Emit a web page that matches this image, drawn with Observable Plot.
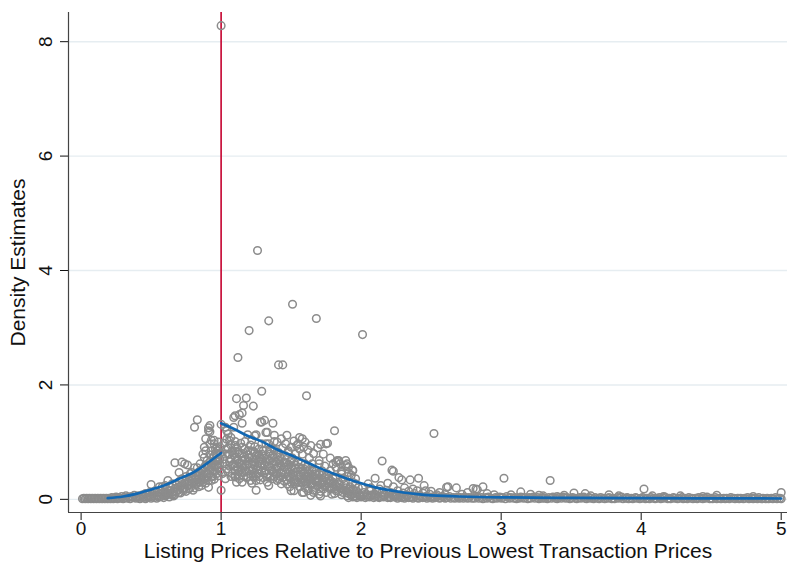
<!DOCTYPE html>
<html><head><meta charset="utf-8">
<script src="https://cdn.jsdelivr.net/npm/d3@7"></script>
<script src="https://cdn.jsdelivr.net/npm/@observablehq/plot@0.6"></script>
<style>body{margin:0;background:#fff}</style>
</head><body><div id="chart"></div>
<script>
const xTicks = [0, 1, 2, 3, 4, 5];
const yTicks = [0, 2, 4, 6, 8];
const cutoff = [1];
const xTitle = "Listing Prices Relative to Previous Lowest Transaction Prices";
const yTitle = "Density Estimates";

// fitted density, below and above the cutoff
const fitLeftX = [0.19, 0.3, 0.4, 0.5, 0.6, 0.7, 0.8, 0.9, 1.0];
const fitLeftY = [0.02, 0.05, 0.1, 0.17, 0.25, 0.36, 0.47, 0.63, 0.81];
const fitRightX = [1.0, 1.1, 1.2, 1.3, 1.4, 1.5, 1.6, 1.7, 1.8, 1.9, 2.0, 2.1, 2.2, 2.3, 2.4, 2.5, 2.7, 3.0, 3.5, 4.0, 4.5, 5.0];
const fitRightY = [1.33, 1.22, 1.1, 1.0, 0.87, 0.77, 0.66, 0.55, 0.45, 0.36, 0.28, 0.21, 0.16, 0.12, 0.09, 0.07, 0.05, 0.035, 0.025, 0.02, 0.018, 0.015];

// scatter of density estimates
const bandLeft = [[0.01,0.01],[0.02,0.02],[0.03,0.01],[0.04,0.02],[0.05,0.01],[0.06,0.02],[0.07,0.01],[0.08,0.02],[0.09,0.01],[0.10,0.02],[0.11,0.01],[0.12,0.02],[0.13,0.01],[0.14,0.02],[0.15,0.01],[0.16,0.02],[0.17,0.01],[0.18,0.02],[0.19,0.01],[0.20,0.02],[0.21,0.01],[0.22,0.03],[0.23,0.01],[0.24,0.02],[0.25,0.04],[0.26,0.01],[0.27,0.03],[0.28,0.02],[0.29,0.05],[0.30,0.01],[0.31,0.03],[0.32,0.06],[0.33,0.02],[0.34,0.04],[0.35,0.01],[0.36,0.05],[0.37,0.03],[0.38,0.07],[0.39,0.02],[0.40,0.05],[0.42,0.01],[0.44,0.03],[0.46,0.01],[0.48,0.04],[0.50,0.02],[0.52,0.06],[0.54,0.02],[0.57,0.05],[0.59,0.03],[0.61,0.08],[0.63,0.04],[0.66,0.06]];

const leftCloud = [[0.40,0.03],[0.41,0.06],[0.42,0.02],[0.43,0.05],[0.44,0.08],[0.45,0.04],[0.46,0.10],[0.47,0.03],[0.48,0.07],[0.49,0.12],[0.50,0.05],[0.50,0.26],[0.51,0.09],[0.52,0.03],[0.53,0.14],[0.54,0.07],[0.55,0.11],[0.56,0.04],[0.56,0.22],[0.57,0.16],[0.58,0.09],[0.58,0.22],[0.59,0.13],[0.60,0.06],[0.60,0.24],[0.61,0.18],[0.62,0.10],[0.62,0.33],[0.63,0.15],[0.64,0.21],[0.65,0.08],[0.65,0.27],[0.66,0.13],[0.67,0.19],[0.67,0.64],[0.67,0.08],[0.68,0.25],[0.69,0.16],[0.70,0.31],[0.70,0.47],[0.71,0.11],[0.71,0.22],[0.72,0.36],[0.72,0.65],[0.73,0.18],[0.74,0.28],[0.74,0.62],[0.75,0.14],[0.75,0.40],[0.76,0.24],[0.76,0.60],[0.77,0.33],[0.78,0.20],[0.78,0.45],[0.79,0.29],[0.79,0.47],[0.80,0.38],[0.80,0.16],[0.81,0.55],[0.81,1.26],[0.82,0.26],[0.82,0.42],[0.83,0.34],[0.83,1.39],[0.83,0.55],[0.84,0.22],[0.84,0.48],[0.85,0.62],[0.85,0.30],[0.86,0.40],[0.86,0.24],[0.87,0.79],[0.87,0.53],[0.88,0.73],[0.88,0.36],[0.88,0.91],[0.89,0.60],[0.89,0.28],[0.89,0.85],[0.90,0.45],[0.90,0.68],[0.91,1.25],[0.91,0.33],[0.91,1.20],[0.91,0.56],[0.92,0.97],[0.92,1.29],[0.92,0.78],[0.92,1.18],[0.93,0.62],[0.93,1.03],[0.93,0.40],[0.93,0.85],[0.94,0.50],[0.94,0.72],[0.95,0.97],[0.95,1.03],[0.95,0.35],[0.95,0.60],[0.96,0.68],[0.96,0.88],[0.97,0.45],[0.97,0.78],[0.98,0.85],[0.98,0.55],[0.98,0.41],[0.98,1.00],[0.99,0.70],[0.99,0.62],[0.99,0.92],[0.89,1.06],[0.88,0.44],[0.93,0.33],[0.91,0.21],[0.97,0.68],[1.00,1.31],[1.00,0.16],[1.00,8.28],
[0.55,0.05],[0.57,0.10],[0.59,0.07],[0.61,0.12],[0.63,0.09],[0.64,0.15],[0.66,0.10],[0.68,0.14],[0.69,0.21],[0.70,0.12],[0.72,0.26],[0.73,0.15],[0.74,0.20],[0.76,0.30],[0.77,0.18],[0.78,0.26],[0.79,0.36],[0.81,0.30],[0.81,0.20],[0.82,0.36],[0.83,0.28],[0.84,0.40],[0.85,0.46],[0.86,0.34],[0.86,0.52],[0.87,0.42],[0.87,0.30],[0.88,0.56],[0.89,0.48],[0.90,0.38],[0.90,0.58],[0.91,0.44],[0.92,0.52],[0.92,0.66],[0.93,0.56],[0.94,0.62],[0.94,0.40],[0.95,0.76],[0.95,0.48],[0.96,0.56],[0.96,0.80],[0.97,0.60],[0.97,0.90],[0.98,0.70],[0.99,0.50],[0.99,0.80]];

const mainCloud = [[1.26,4.35],[1.51,3.41],[1.34,3.12],[1.68,3.16],[1.20,2.95],[1.12,2.48],[1.41,2.35],[1.44,2.35],[1.29,1.89],[1.61,1.81],[1.11,1.76],[1.18,1.77],[1.16,1.64],[1.23,1.63],[1.15,1.51],[1.10,1.46],[1.13,1.48],[2.01,2.88],[1.81,1.20],[2.52,1.15],
[1.09,1.43],[1.15,1.33],[1.09,1.26],[1.29,1.35],[1.31,1.38],[1.37,1.33],[1.33,1.17],[1.25,1.13],[1.19,1.13],[1.22,1.04],[1.17,1.01],[1.10,1.01],[1.07,1.08],[1.05,1.14],[1.04,1.20],[1.03,1.26],[1.06,1.03],[1.10,0.94],[1.15,0.91],[1.19,0.85],[1.24,0.92],[1.29,0.97],[1.34,0.97],[1.38,1.01],[1.46,0.97],[1.50,0.91],[1.48,0.82],[1.55,0.97],[1.58,1.06],[1.56,0.88],[1.53,0.79],[1.41,0.82],[1.35,0.79],[1.29,0.79],[1.27,0.68],[1.22,0.62],[1.15,0.68],[1.10,0.74],[1.05,0.79],[1.12,0.56],[1.17,0.50],[1.23,0.39],[1.10,0.39],[1.11,0.30],[1.25,0.16],[1.34,0.24],[1.43,0.27],[1.50,0.15],[1.53,0.27],[1.58,0.36],[1.62,0.39],[1.67,0.44],[1.72,0.50],[1.65,0.62],[1.70,0.68],[1.73,0.79],[1.76,0.98],[1.83,0.68],[1.89,0.68],[1.85,0.62],[1.91,0.56],[1.94,0.50],[1.86,0.44],[1.82,0.39],[1.77,0.33],[1.72,0.27],[1.67,0.21],[1.62,0.15],[1.58,0.12],[1.70,0.09],[1.82,0.15],[1.91,0.18],[1.96,0.27],[2.01,0.21],[2.06,0.15],[2.10,0.09],[2.15,0.12],[2.20,0.09],[2.25,0.06],
[1.28,1.35],[1.32,1.17],[1.24,1.11],[1.75,0.97],[1.70,0.62],[1.54,0.94],[1.59,0.91],[1.58,0.79],[1.40,1.00],[1.32,0.97],[1.48,0.85],[1.11,0.91],[1.06,0.79],[1.13,0.79],[1.21,0.85],[1.25,0.76],[1.19,0.68],[1.15,0.59],[1.10,0.50],[1.16,0.47],[1.23,0.53],[1.29,0.62],[1.35,0.68],[1.42,0.74],[1.52,0.65],[1.61,0.56],[1.68,0.50],[1.76,0.44],[1.78,0.33],[1.68,0.30],[1.61,0.27],[1.54,0.30],[1.47,0.27],[1.40,0.33],[1.33,0.39],[1.25,0.41],[1.21,0.33],[1.15,0.30],[1.10,0.41],[1.52,0.15],[1.59,0.12],[1.66,0.12],[1.73,0.18],[1.80,0.27],[1.79,0.09],[1.71,0.06],[1.64,0.07],[1.03,0.79],[1.04,0.53],[1.11,0.68],
[1.02,0.98],[1.03,0.62],[1.04,1.05],[1.05,0.90],[1.06,0.58],[1.07,0.70],[1.08,0.85],[1.08,0.45],[1.09,0.62],[1.12,0.82],[1.13,0.64],[1.14,0.98],[1.14,0.52],[1.16,0.74],[1.17,0.88],[1.18,0.60],[1.18,0.38],[1.20,0.72],[1.20,0.50],[1.21,0.95],[1.22,0.28],[1.23,0.66],[1.24,0.82],[1.26,0.58],[1.26,0.45],[1.27,0.88],[1.28,0.34],[1.28,0.72],[1.30,0.55],[1.30,0.85],[1.31,0.46],[1.32,0.66],[1.33,0.30],[1.34,0.58],[1.35,0.88],[1.36,0.50],[1.36,0.72],[1.37,0.36],[1.38,0.62],[1.38,0.86],[1.39,0.44],[1.40,0.56],[1.41,0.68],[1.42,0.40],[1.43,0.58],[1.44,0.90],[1.44,0.48],[1.45,0.64],[1.45,0.32],[1.46,0.76],[1.47,0.52],[1.48,0.40],[1.49,0.66],[1.49,0.22],[1.50,0.56],[1.51,0.45],[1.51,0.72],[1.52,0.36],[1.53,0.54],[1.55,0.42],[1.55,0.66],[1.56,0.22],[1.57,0.52],[1.57,0.30],[1.59,0.44],[1.60,0.62],[1.60,0.20],[1.62,0.48],[1.63,0.34],[1.63,0.72],[1.64,0.26],[1.65,0.42],[1.66,0.52],[1.66,0.16],[1.68,0.36],[1.69,0.24],[1.70,0.44],[1.71,0.14],[1.72,0.34],[1.74,0.22],[1.74,0.58],[1.75,0.12],[1.76,0.28],[1.78,0.18],[1.78,0.50],[1.80,0.36],[1.81,0.10],[1.82,0.24],[1.84,0.30],[1.84,0.14],[1.85,0.20],[1.86,0.08],[1.87,0.36],[1.88,0.16],[1.88,0.26],[1.90,0.12],[1.90,0.40],[1.92,0.22],[1.93,0.08],[1.94,0.30],[1.95,0.15],[1.97,0.10],[1.98,0.20],[1.99,0.06],
[1.38,1.12],[1.43,1.06],[1.47,1.12],[1.52,1.02],[1.56,1.08],[1.60,1.00],[1.62,0.86],[1.64,0.94],[1.66,0.80],[1.69,0.90],[1.71,0.96],[1.78,0.72],[1.80,0.62],[1.82,0.56],[1.84,0.66],[1.86,0.50],[1.90,0.62],[1.93,0.42]];

const denseCore = [[1.01,0.45],[1.02,0.70],[1.03,0.36],[1.04,0.88],[1.05,0.48],[1.06,0.66],[1.07,0.40],[1.07,0.95],[1.08,0.60],[1.09,0.78],[1.10,0.58],[1.11,0.84],[1.12,0.44],[1.12,0.70],[1.13,0.36],[1.14,0.62],[1.15,0.80],[1.16,0.40],[1.16,0.56],[1.17,0.70],[1.18,0.48],[1.19,0.78],[1.19,0.40],[1.20,0.62],[1.21,0.44],[1.22,0.74],[1.22,0.52],[1.23,0.84],[1.24,0.46],[1.24,0.60],[1.25,0.70],[1.25,0.33],[1.26,0.52],[1.27,0.78],[1.27,0.40],[1.28,0.62],[1.29,0.48],[1.29,0.70],[1.30,0.38],[1.31,0.60],[1.31,0.76],[1.32,0.50],[1.33,0.70],[1.33,0.44],[1.34,0.82],[1.35,0.40],[1.35,0.56],[1.36,0.64],[1.37,0.48],[1.37,0.78],[1.38,0.40],[1.39,0.66],[1.39,0.54],[1.40,0.46],[1.40,0.78],[1.41,0.36],[1.41,0.58],[1.42,0.64],[1.43,0.46],[1.43,0.72],[1.44,0.38],[1.45,0.56],[1.46,0.44],[1.46,0.64],[1.47,0.34],[1.48,0.60],[1.48,0.48],[1.49,0.38],[1.50,0.68],[1.50,0.30],[1.51,0.52],[1.52,0.42],[1.53,0.60],[1.53,0.34],[1.54,0.48],[1.55,0.30],[1.56,0.56],[1.56,0.40],[1.57,0.62],[1.58,0.28],[1.58,0.48],[1.59,0.36],[1.60,0.52],[1.61,0.40],[1.61,0.30],[1.62,0.58],[1.63,0.44],[1.64,0.36],[1.65,0.50],[1.65,0.28],[1.66,0.40],[1.67,0.32],[1.68,0.44],[1.69,0.30],[1.70,0.36],[1.71,0.26],[1.72,0.42],[1.73,0.30],[1.74,0.38],[1.75,0.24],[1.76,0.36],[1.77,0.22],[1.78,0.28],[1.79,0.20],[1.80,0.30],[1.81,0.18],[1.83,0.22],[1.85,0.26],[1.86,0.18],[1.87,0.12],[1.89,0.20],[1.91,0.10],[1.92,0.14],[1.94,0.18],[1.96,0.06],[1.97,0.14]];

const tailCloud = [[2.15,0.67],[2.22,0.51],[2.23,0.49],[2.41,0.37],[2.35,0.34],[2.29,0.34],[2.27,0.38],[2.19,0.28],[2.10,0.37],[2.05,0.27],[1.94,0.51],[1.89,0.59],[1.84,0.68],[1.82,0.65],[1.91,0.47],[1.86,0.47],[1.96,0.36],[2.62,0.22],[2.68,0.20],[2.46,0.15],[2.37,0.18],[2.13,0.18],[2.61,0.21],[2.80,0.19],[2.82,0.18],[2.87,0.22],
[2.02,0.12],[2.04,0.05],[2.07,0.20],[2.08,0.08],[2.11,0.14],[2.12,0.04],[2.14,0.24],[2.16,0.07],[2.18,0.16],[2.20,0.04],[2.21,0.12],[2.23,0.22],[2.24,0.08],[2.26,0.15],[2.28,0.05],[2.30,0.11],[2.31,0.20],[2.33,0.07],[2.34,0.14],[2.36,0.04],[2.38,0.10],[2.40,0.15],[2.42,0.06],[2.44,0.11],[2.45,0.24],[2.47,0.05],[2.49,0.09],[2.50,0.14],[2.52,0.04],[2.54,0.08],[2.56,0.12],[2.58,0.05],[2.60,0.09],
[2.83,0.17],[3.02,0.37],[3.14,0.13],[3.35,0.33],[3.52,0.11],[3.60,0.10],[3.77,0.08],[4.02,0.18],[5.00,0.12],[2.72,0.09],[2.76,0.12],[2.90,0.10],[2.95,0.08],[3.07,0.08],[3.21,0.09],[3.27,0.07],[3.45,0.07],[3.64,0.06],[3.84,0.06],[4.08,0.06],[4.16,0.05],[4.28,0.06],[4.44,0.05],[4.54,0.07],[4.80,0.05],[3.30,0.06],[3.40,0.05]];

const bandRight = [[1.90,0.06],[1.91,0.03],[1.93,0.07],[1.94,0.04],[1.96,0.05],[1.97,0.03],[1.99,0.07],
[2.00,0.04],[2.01,0.06],[2.03,0.03],[2.04,0.08],[2.06,0.04],[2.07,0.06],[2.09,0.03],
[2.10,0.05],[2.11,0.07],[2.13,0.03],[2.14,0.05],[2.16,0.04],[2.17,0.07],[2.19,0.03],
[2.20,0.05],[2.21,0.03],[2.23,0.06],[2.24,0.04],[2.26,0.02],[2.27,0.05],[2.29,0.03],
[2.30,0.04],[2.31,0.02],[2.33,0.05],[2.34,0.03],[2.36,0.04],[2.37,0.02],[2.39,0.05],
[2.40,0.03],[2.41,0.02],[2.43,0.04],[2.44,0.03],[2.46,0.05],[2.47,0.02],[2.49,0.03],
[2.50,0.04],[2.51,0.02],[2.53,0.03],[2.54,0.05],[2.56,0.02],[2.57,0.03],[2.59,0.04],
[2.60,0.02],[2.61,0.03],[2.63,0.05],[2.64,0.02],[2.66,0.03],[2.67,0.02],[2.69,0.04],
[2.70,0.02],[2.71,0.03],[2.73,0.02],[2.74,0.04],[2.76,0.02],[2.77,0.03],[2.79,0.02],
[2.80,0.03],[2.81,0.02],[2.83,0.04],[2.84,0.02],[2.86,0.03],[2.87,0.01],[2.89,0.03],
[2.90,0.02],[2.91,0.04],[2.93,0.02],[2.94,0.01],[2.96,0.03],[2.97,0.02],[2.99,0.04],
[3.00,0.02],[3.01,0.03],[3.03,0.01],[3.04,0.05],[3.06,0.02],[3.07,0.03],[3.09,0.02],
[3.10,0.03],[3.11,0.01],[3.13,0.02],[3.14,0.04],[3.16,0.02],[3.17,0.03],[3.19,0.01],
[3.20,0.03],[3.21,0.02],[3.23,0.04],[3.24,0.02],[3.26,0.03],[3.27,0.01],[3.29,0.02],
[3.30,0.03],[3.31,0.02],[3.33,0.01],[3.34,0.03],[3.36,0.02],[3.37,0.04],[3.39,0.02],
[3.40,0.01],[3.41,0.03],[3.43,0.02],[3.44,0.04],[3.46,0.02],[3.47,0.03],[3.49,0.01],
[3.50,0.02],[3.51,0.03],[3.53,0.02],[3.54,0.01],[3.56,0.03],[3.57,0.02],[3.59,0.04],
[3.60,0.02],[3.61,0.01],[3.63,0.03],[3.64,0.02],[3.66,0.01],[3.67,0.03],[3.69,0.02],
[3.70,0.01],[3.71,0.03],[3.73,0.02],[3.74,0.01],[3.76,0.02],[3.77,0.03],[3.79,0.01],
[3.80,0.02],[3.81,0.01],[3.83,0.03],[3.84,0.02],[3.86,0.04],[3.87,0.01],[3.89,0.02],
[3.90,0.03],[3.91,0.01],[3.93,0.02],[3.94,0.01],[3.96,0.03],[3.97,0.02],[3.99,0.01],
[4.00,0.02],[4.01,0.03],[4.03,0.01],[4.04,0.02],[4.06,0.01],[4.07,0.03],[4.09,0.02],
[4.10,0.01],[4.11,0.02],[4.13,0.03],[4.14,0.01],[4.16,0.02],[4.17,0.04],[4.19,0.01],
[4.20,0.02],[4.21,0.01],[4.23,0.03],[4.24,0.02],[4.26,0.01],[4.27,0.02],[4.29,0.03],
[4.30,0.01],[4.31,0.02],[4.33,0.01],[4.34,0.03],[4.36,0.02],[4.37,0.01],[4.39,0.02],
[4.40,0.01],[4.41,0.03],[4.43,0.02],[4.44,0.01],[4.46,0.02],[4.47,0.04],[4.49,0.01],
[4.50,0.02],[4.51,0.01],[4.53,0.03],[4.54,0.01],[4.56,0.02],[4.57,0.01],[4.59,0.02],
[4.60,0.01],[4.61,0.02],[4.63,0.01],[4.64,0.03],[4.66,0.02],[4.67,0.01],[4.69,0.02],
[4.70,0.01],[4.71,0.02],[4.73,0.01],[4.74,0.02],[4.76,0.03],[4.77,0.01],[4.79,0.02],
[4.80,0.01],[4.81,0.02],[4.83,0.01],[4.84,0.03],[4.86,0.01],[4.87,0.02],[4.89,0.01],
[4.90,0.02],[4.91,0.01],[4.93,0.02],[4.94,0.01],[4.96,0.03],[4.97,0.01],[4.99,0.02],
[5.00,0.01]];

const points = [...bandLeft, ...leftCloud, ...mainCloud, ...denseCore, ...tailCloud, ...bandRight].map(([x, y]) => ({x, y}));
const fitLeft = fitLeftX.map((x, i) => ({x, y: fitLeftY[i]}));
const fitRight = fitRightX.map((x, i) => ({x, y: fitRightY[i]}));

const xMin = -0.09, xMax = 5.045, yMin = -0.23, yMax = 8.51;

const chart = Plot.plot({
  width: 787, height: 569,
  marginLeft: 68, marginRight: 0, marginTop: 12, marginBottom: 57,
  style: {fontFamily: "'Liberation Sans', Arial, Helvetica, sans-serif", fontSize: "19px", color: "#111", background: "#fff"},
  x: {domain: [xMin, xMax], ticks: xTicks, tickSize: 8, tickPadding: 1, label: null, tickFormat: d3.format("d")},
  y: {domain: [yMin, yMax], ticks: yTicks, tickSize: 8, tickPadding: 9, tickRotate: -90, label: null, tickFormat: d3.format("d")},
  marks: [
    Plot.ruleY(yTicks, {stroke: "#e6edf1", strokeWidth: 1.4}),
    Plot.ruleX(cutoff, {stroke: "#c8103a", strokeWidth: 1.7}),
    Plot.dot(points, {x: "x", y: "y", r: 3.8, stroke: "#8c8c8c", strokeWidth: 1.5, fill: "none"}),
    Plot.line(fitLeft, {x: "x", y: "y", curve: "natural", stroke: "#1268b3", strokeWidth: 2.7}),
    Plot.line(fitRight, {x: "x", y: "y", curve: "natural", stroke: "#1268b3", strokeWidth: 2.7}),
    Plot.ruleX([xMin], {stroke: "#444", strokeWidth: 1.2}),
    Plot.ruleY([yMin], {stroke: "#444", strokeWidth: 1.2}),
    Plot.text([xTitle], {frameAnchor: "bottom", dy: 45, fontSize: 21, fill: "#111"}),
    Plot.text([yTitle], {frameAnchor: "left", dx: -50, rotate: -90, textAnchor: "middle", fontSize: 21, fill: "#111"})
  ]
});
document.getElementById("chart").appendChild(chart);
</script>
</body></html>
